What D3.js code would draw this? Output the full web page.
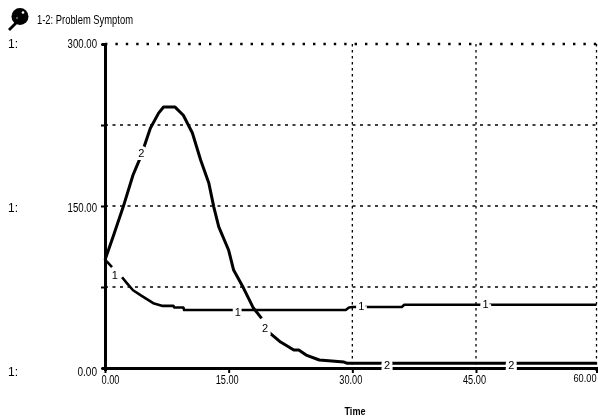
<!DOCTYPE html>
<html>
<head>
<meta charset="utf-8">
<script src="https://cdn.jsdelivr.net/npm/d3@7"></script>
<style>
  body { margin: 0; background: #fff; }
  svg { filter: blur(0.35px); }
  text { font-family: "Liberation Sans", sans-serif; fill: #000; }
</style>
</head>
<body>
<svg id="vis"></svg>
<script>
const WIDTH = 598;
const HEIGHT = 420;

// valores (null = corte de la linea junto al numero)
const time1 = [0, 0.3, 0.85, 1.5, 2.07, 2.6, 3.4, 4.4, 5.85, 7, 8.3, 8.4, 9.5, 9.6, 20, 29.2, 29.6, 30, 36, 36.3, 46, 60];
const values1 = [100, 98, 93.5, null, 84, 79, 72, 67, 60, 57.5, 57.5, 56, 56, 53.7, 53.7, 53.7, 56, 56.5, 56.5, 58.5, 58.5, 58.5];
const time2 = [0, 1, 2.2, 3.4, 4.3, 5.5, 6.5, 7.1, 8.5, 9.5, 10.6, 11.6, 12.6, 13.2, 13.8, 15, 15.6, 16.8, 18, 19, 19.5, 19.9, 21.3, 22.9, 23.5, 24.4, 26, 29, 29.4, 60];
const values2 = [100, 122, 149, 178.7, 195, 222, 236, 241.6, 241.6, 234, 217.6, 192.6, 171, 149, 130.6, 109, 90.7, 74, 55.5, 46, null, 33, 24, 16.7, 16.7, 12, 7.4, 5.5, 4.3, 4.3];

const xTicks = [0, 15, 30, 45, 60];
const xTickLabels = ["0.00", "15.00", "30.00", "45.00", "60.00"];
const yTicks = [0, 75, 150, 225, 300];
const yTickLabels = { 0: "0.00", 150: "150.00", 300: "300.00" };
const gridX = [30, 45, 60];
const gridY = [75, 150, 225, 300];
const label1Time = [1.2, 16.1, 31.1, 46.2];
const label1Value = [85, 51, 56, 58];
const label2Time = [4.4, 19.4, 34.2, 49.4];
const label2Value = [198, 36, 2, 2];

const svg = d3.select("#vis").attr("width", WIDTH).attr("height", HEIGHT)
    .style("display", "block");

// el eje del original no es del todo uniforme
const escalaX = d3.scaleLinear().domain([0, 45, 60]).range([105, 476, 596.5]);
const escalaY = d3.scaleLinear().domain([0, 300]).range([368, 44]);

// grilla punteada
svg.append("g").selectAll("line").data(gridY).join("line")
    .attr("x1", escalaX(0)).attr("x2", escalaX(60))
    .attr("y1", d => escalaY(d)).attr("y2", d => escalaY(d))
    .attr("stroke", "#000")
    .attr("stroke-width", d => d === 300 ? 2.4 : 1.3)
    .attr("stroke-dasharray", d => d === 300 ? "2.4,8" : "3,4.5");

svg.append("g").selectAll("line").data(gridX).join("line")
    .attr("x1", d => escalaX(d)).attr("x2", d => escalaX(d))
    .attr("y1", escalaY(300)).attr("y2", escalaY(0))
    .attr("stroke", "#000")
    .attr("stroke-width", 1.3)
    .attr("stroke-dasharray", "2.5,3.5");

// ejes
const ejeY = d3.axisLeft(escalaY).tickValues(yTicks).tickSize(3)
    .tickFormat(d => yTickLabels[d] || "");
const gY = svg.append("g").attr("transform", `translate(${escalaX(0)},0)`).call(ejeY);
gY.select(".domain").attr("stroke", "#000").attr("stroke-width", 3);
gY.selectAll("line").attr("stroke-width", 2).attr("x2", -4);
gY.selectAll("text").attr("x", -8).attr("font-size", 12)
    .attr("y", d => (300 - d) / 300 * 4)
    .attr("textLength", d => (yTickLabels[d] || "").length * 4.9)
    .attr("lengthAdjust", "spacingAndGlyphs")
    .style("font-family", '"Liberation Sans", sans-serif');

const ejeX = d3.axisBottom(escalaX).tickValues(xTicks).tickSize(3)
    .tickFormat((d, i) => xTickLabels[i]);
const gX = svg.append("g").attr("transform", `translate(0,${escalaY(0)})`).call(ejeX);
gX.select(".domain").attr("stroke", "#000").attr("stroke-width", 3);
gX.selectAll("line").attr("stroke-width", 2).attr("y2", 5);
gX.selectAll("text").attr("y", 7).attr("font-size", d => d === 60 ? 10.5 : 12)
    .attr("textLength", d => d === 0 ? 18 : 23)
    .attr("lengthAdjust", "spacingAndGlyphs")
    .style("font-family", '"Liberation Sans", sans-serif')
    .attr("dx", d => d === 0 ? 5 : d === 60 ? -12 : -2);

// curvas
const linea = (t, v) => d3.line()
    .defined((d, i) => v[i] !== null)
    .x((d, i) => escalaX(t[i]))
    .y((d, i) => escalaY(v[i]))(t);

svg.append("path").attr("d", linea(time1, values1))
    .attr("fill", "none").attr("stroke", "#000").attr("stroke-width", 2.6).attr("stroke-linejoin", "round");
svg.append("path").attr("d", linea(time2, values2))
    .attr("fill", "none").attr("stroke", "#000").attr("stroke-width", 3).attr("stroke-linejoin", "round");

// numeros sobre las curvas, con halo blanco que corta la linea
const etiquetas = (nombre, t, v) => svg.append("g").selectAll("text").data(t).join("text")
    .attr("x", d => escalaX(d))
    .attr("y", (d, i) => escalaY(v[i]))
    .attr("text-anchor", "middle")
    .attr("dominant-baseline", "middle")
    .attr("font-size", 11)
    .attr("stroke", "#fff").attr("stroke-width", 6).attr("paint-order", "stroke")
    .text(nombre);
etiquetas("1", label1Time, label1Value);
etiquetas("2", label2Time, label2Value);

// textos
svg.append("text").attr("x", 37).attr("y", 24).attr("font-size", 12)
    .attr("textLength", 96).attr("lengthAdjust", "spacingAndGlyphs")
    .text("1-2: Problem Symptom");
svg.append("text").attr("x", 355).attr("y", 415).attr("text-anchor", "middle")
    .attr("font-size", 11).attr("font-weight", "bold")
    .attr("textLength", 21).attr("lengthAdjust", "spacingAndGlyphs").text("Time");
svg.append("g").selectAll("text").data([300, 150, 0]).join("text")
    .attr("x", 8).attr("y", d => escalaY(d) + 4 + (300 - d) / 300 * 4)
    .attr("font-size", 12).text("1:");

// icono de la lupa
const icono = svg.append("g");
icono.append("line").attr("x1", 9).attr("y1", 30).attr("x2", 17).attr("y2", 22)
    .attr("stroke", "#000").attr("stroke-width", 2.8);
icono.append("circle").attr("cx", 20).attr("cy", 16.5).attr("r", 8.5).attr("fill", "#000");
icono.append("circle").attr("cx", 23).attr("cy", 12.5).attr("r", 1.3).attr("fill", "#fff");
icono.append("circle").attr("cx", 17).attr("cy", 18).attr("r", 0.9).attr("fill", "#888");
</script>
</body>
</html>
